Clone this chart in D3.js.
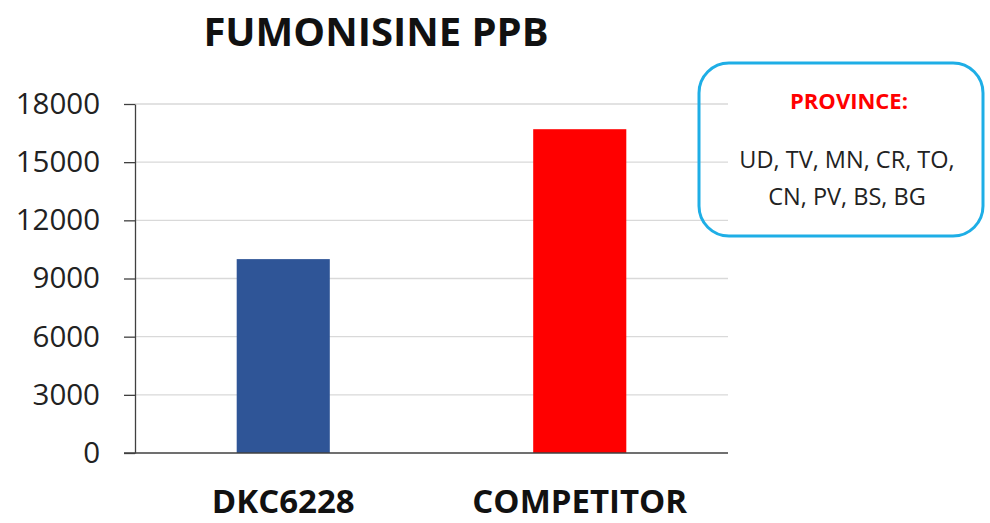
<!DOCTYPE html>
<html>
<head>
<meta charset="utf-8">
<script src="https://cdn.jsdelivr.net/npm/d3@7"></script>
<style>
  html, body { margin: 0; padding: 0; background: #fff; }
  svg { display: block; }
</style>
</head>
<body>
<svg id="chart" width="990" height="523"></svg>
<script>
const categories = ["DKC6228", "COMPETITOR"];
const values = [10000, 16700];
const barColors = ["#2F5597", "#FF0000"];
const yTicks = [0, 3000, 6000, 9000, 12000, 15000, 18000];
const title = "FUMONISINE PPB";
const boxTitle = "PROVINCE:";
const boxLines = ["UD, TV, MN, CR, TO,", "CN, PV, BS, BG"];

const svg = d3.select("#chart");
const font = "'Open Sans', 'Noto Sans', sans-serif";
const plotLeft = 135, plotRight = 728, plotTop = 104, plotBottom = 453;

const x = d3.scaleBand().domain(categories).range([plotLeft, plotRight])
  .paddingInner(0.686).paddingOuter(0.343);
const y = d3.scaleLinear().domain([0, 18000]).range([plotBottom, plotTop]);

// gridlines
svg.append("g").selectAll("line").data(yTicks.filter(d => d > 0)).join("line")
  .attr("x1", plotLeft).attr("x2", plotRight)
  .attr("y1", d => y(d)).attr("y2", d => y(d))
  .attr("stroke", "#d9d9d9").attr("stroke-width", 1.3);

// bars
svg.append("g").selectAll("rect").data(categories).join("rect")
  .attr("x", d => x(d)).attr("width", x.bandwidth())
  .attr("y", (d, i) => y(values[i]))
  .attr("height", (d, i) => y(0) - y(values[i]))
  .attr("fill", (d, i) => barColors[i]);

// y axis
const yAxis = svg.append("g").attr("transform", `translate(${plotLeft},0)`)
  .call(d3.axisLeft(y).tickValues(yTicks).tickFormat(d3.format("d"))
    .tickSize(11).tickPadding(24).tickSizeOuter(0));
yAxis.select(".domain").attr("stroke", "#404040").attr("stroke-width", 1.3);
yAxis.selectAll(".tick line").attr("stroke", "#404040").attr("stroke-width", 1.3);
yAxis.selectAll(".tick text").attr("font-family", font).attr("font-size", 29.5)
  .attr("fill", "#222");

// x axis baseline
svg.append("line").attr("x1", plotLeft - 11).attr("x2", plotRight)
  .attr("y1", plotBottom).attr("y2", plotBottom)
  .attr("stroke", "#404040").attr("stroke-width", 1.6);

// x labels
svg.append("g").selectAll("text").data(categories).join("text")
  .attr("x", d => x(d) + x.bandwidth() / 2).attr("y", 513)
  .attr("text-anchor", "middle").attr("font-family", font)
  .attr("font-weight", "bold").attr("font-size", 33).attr("fill", "#111")
  .text(d => d);

// title
svg.append("text").attr("x", 376).attr("y", 46).attr("text-anchor", "middle")
  .attr("font-family", font).attr("font-weight", "bold").attr("font-size", 40)
  .attr("fill", "#111").text(title);

// annotation box
svg.append("rect").attr("x", 699).attr("y", 63).attr("width", 284).attr("height", 173)
  .attr("rx", 30).attr("ry", 30).attr("fill", "none")
  .attr("stroke", "#1EAEE6").attr("stroke-width", 3);
svg.append("text").attr("x", 849).attr("y", 109).attr("text-anchor", "middle")
  .attr("font-family", font).attr("font-weight", "bold").attr("font-size", 22)
  .attr("fill", "#FF0000").text(boxTitle);
svg.append("g").selectAll("text").data(boxLines).join("text")
  .attr("x", 847).attr("y", (d, i) => 168 + i * 37).attr("text-anchor", "middle")
  .attr("font-family", font).attr("font-size", 23.5).attr("fill", "#222")
  .text(d => d);
</script>
</body>
</html>
